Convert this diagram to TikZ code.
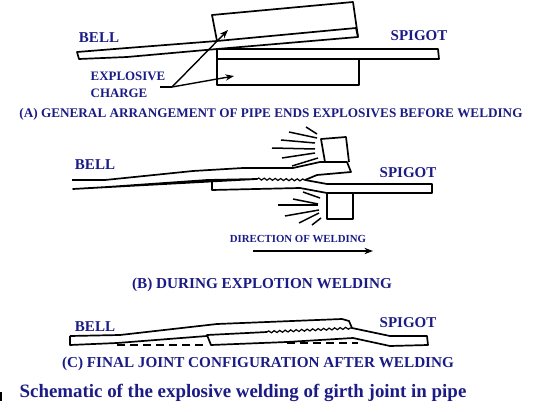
\documentclass[tikz,border=0pt]{standalone}
\usepackage{fontspec}
\setmainfont{Liberation Serif}
\usepackage{xcolor}
\usepackage{tikz}
\usetikzlibrary{arrows.meta,decorations.pathmorphing}
\definecolor{labelblue}{HTML}{1B1B85}

\begin{document}
\begin{tikzpicture}[
  x = 1pt, y = -1pt,
  part/.style   = {line width=1.7pt, line join=round},
  ray/.style    = {line width=1.5pt},
  lead/.style   = {-{Stealth[length=3mm,width=2.2mm]}, line width=1.4pt},
  weld/.style   = {line width=1.2pt, decorate, decoration={snake, amplitude=1pt, segment length=5.5pt}},
  pipelbl/.style = {text=labelblue, font=\fontsize{15}{17}\selectfont\bfseries, inner sep=0pt},
  chglbl/.style  = {text=labelblue, font=\fontsize{12.9}{15}\selectfont\bfseries, inner sep=0pt},
  dirlbl/.style  = {text=labelblue, font=\fontsize{10.8}{13}\selectfont\bfseries, inner sep=0pt},
  heada/.style   = {text=labelblue, font=\fontsize{13.2}{16}\selectfont\bfseries, inner sep=0pt},
  headlbl/.style = {text=labelblue, font=\fontsize{15.2}{18}\selectfont\bfseries, inner sep=0pt},
  caplbl/.style  = {text=labelblue, font=\fontsize{18.9}{22}\selectfont\bfseries, inner sep=0pt}
]
\useasboundingbox (0,0) rectangle (539,412);
% (A) before welding
\draw[part] (217,41) -- (212,15) -- (353,2) -- (358,37);
\draw[part] (77,52) -- (127,48) -- (217,41) -- (356,28) -- (358,37) -- (217,49) -- (127,57) -- (79,59) -- cycle;
\draw[part] (217,49) -- (438,49) -- (439,59) -- (217,59) -- cycle;
\draw[part] (217,59) -- (217,85) -- (359,85) -- (359,59);
\node[pipelbl] (bella)   at (99,38)  {BELL};
\node[pipelbl] (spigota) at (419,36) {SPIGOT};
\node[chglbl]  (expl)    at (128,76) {EXPLOSIVE};
\node[chglbl]  (charge)  at (119,93) {CHARGE};
\coordinate (leadstart) at (160,87);
\coordinate (leadbend)  at (172,87);
\coordinate (upperchg)  at (228,30);
\coordinate (lowerchg)  at (234,76);
\draw[line width=1.4pt] (leadstart) -- (leadbend);
\draw[lead] (leadbend) -- (upperchg);
\draw[lead] (leadbend) -- (lowerchg);
\node[heada] (titlea) at (271,114) {(A) GENERAL ARRANGEMENT OF PIPE ENDS EXPLOSIVES BEFORE WELDING};
% (B) during welding
\draw[part] (72,180) -- (105,180) -- (193,171) -- (243,168) -- (293,168) -- (320,162) -- (347,162) -- (351,172) -- (317,175) -- (305,180);
\draw[part] (257,179) -- (207,180) -- (193,181) -- (107,187) -- (73,189) -- cycle;
\draw[weld] (257,179) -- (305,180);
\draw[part] (305,180) -- (327,184) -- (432,184) -- (432,193) -- (327,193) -- (300,188) -- (212,190) -- (212,181);
\draw[part] (325,162) -- (321,139) -- (346,137) -- (349,162);
\draw[part] (327,193) -- (327,219) -- (353,219) -- (353,193);
\foreach \xa/\ya/\xb/\yb in {306/127/317/134, 289/132/317/138, 281/140/315/143, 272/148/315/149, 282/158/315/153, 292/166/318/158,
                             303/192/320/198, 293/199/318/204, 278/205/318/205, 285/216/319/210, 299/223/319/213, 312/225/321/218}
  \draw[ray] (\xa,\ya) -- (\xb,\yb);
\node[pipelbl] (bellb)    at (95,165)  {BELL};
\node[pipelbl] (spigotb)  at (408,173) {SPIGOT};
\node[dirlbl]  (dirlabel) at (298,239) {DIRECTION OF WELDING};
\coordinate (dirstart) at (253,251);
\coordinate (dirend)   at (373,251);
\draw[lead] (dirstart) -- (dirend);
\node[headlbl] (titleb) at (262,285) {(B) DURING EXPLOTION WELDING};
% (C) after welding
\draw[part] (70,336) -- (120,335) -- (217,324) -- (342,319) -- (349,321) -- (352,328) -- (390,336) -- (427,336) -- (428,345) -- (390,346) -- (353,338) -- (287,342) -- (211,345) -- (207,335) -- (267,332);
\draw[part] (70,336) -- (70,345) -- (117,343) -- (207,336);
\draw[weld] (267,332) -- (352,328);
\draw[part, dash pattern=on 8pt off 5pt] (117,345) -- (207,345);
\draw[part, dash pattern=on 8pt off 5pt] (287,343) -- (358,343);
\node[pipelbl] (bellc)   at (95,327)  {BELL};
\node[pipelbl] (spigotc) at (408,323) {SPIGOT};
\node[headlbl] (titlec)  at (258,364) {(C) FINAL JOINT CONFIGURATION AFTER WELDING};
\node[caplbl]  (caption) at (243,393) {Schematic of the explosive welding of girth joint in pipe};
\fill (0,392) rectangle (1.5,401);
\end{tikzpicture}
\end{document}
